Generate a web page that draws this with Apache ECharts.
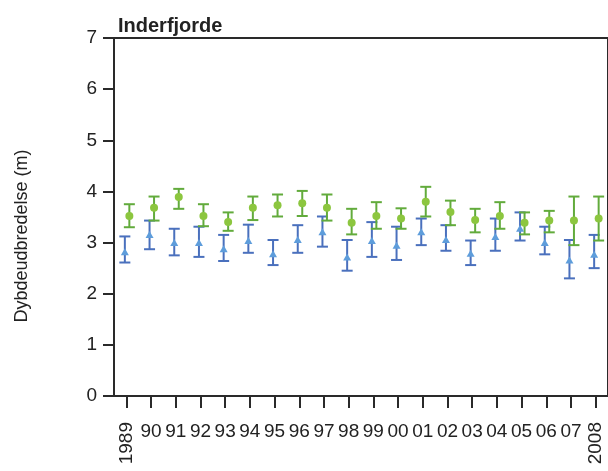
<!DOCTYPE html>
<html>
<head>
<meta charset="utf-8">
<style>html,body{margin:0;padding:0;background:#fff}#c{width:608px;height:471px}</style>
<script src="https://cdn.jsdelivr.net/npm/echarts@6/dist/echarts.min.js"></script>
</head>
<body>
<div id="c"></div>
<script>
const categories = ['1989','90','91','92','93','94','95','96','97','98','99','00','01','02','03','04','05','06','07','2008'];
const yTicks = [0,1,2,3,4,5,6,7];
const greenMean  = [3.52,3.68,3.89,3.52,3.40,3.68,3.73,3.77,3.68,3.39,3.52,3.47,3.80,3.60,3.44,3.52,3.39,3.43,3.43,3.47];
const greenUpper = [3.75,3.90,4.05,3.75,3.59,3.90,3.94,4.01,3.94,3.66,3.79,3.67,4.09,3.82,3.66,3.79,3.59,3.62,3.90,3.90];
const greenLower = [3.30,3.43,3.66,3.32,3.23,3.44,3.51,3.52,3.43,3.16,3.27,3.27,3.51,3.34,3.20,3.27,3.16,3.20,2.95,3.04];
const blueMean   = [2.82,3.16,3.00,3.00,2.88,3.04,2.78,3.06,3.21,2.72,3.04,2.95,3.21,3.06,2.79,3.12,3.28,3.00,2.66,2.77];
const blueUpper  = [3.12,3.43,3.27,3.31,3.15,3.35,3.05,3.34,3.51,3.05,3.40,3.31,3.47,3.34,3.04,3.47,3.59,3.31,3.05,3.15];
const blueLower  = [2.61,2.87,2.75,2.72,2.64,2.80,2.56,2.80,2.92,2.45,2.72,2.66,2.95,2.84,2.56,2.84,3.04,2.77,2.30,2.50];

const FONT = '"Liberation Sans", Arial, sans-serif';
const AX = '#2a2a2a';
const GREEN_BAR = '#62ab3c', GREEN_DOT = '#8cc63f';
const BLUE_BAR = '#4a70bd', BLUE_TRI = '#5e9ddb';

function errBars(lo, hi, off, color) {
  return {
    type: 'custom',
    xAxisIndex: 0,
    data: categories.map((c, i) => [i, lo[i], hi[i]]),
    encode: { x: 0, y: [1, 2] },
    renderItem: function (params, api) {
      const pTop = api.coord([api.value(0), api.value(2)]);
      const pBot = api.coord([api.value(0), api.value(1)]);
      const cx = pTop[0] + off, hw = 5.5;
      const st = { stroke: color, lineWidth: 2 };
      return { type: 'group', children: [
        { type: 'line', shape: { x1: cx, y1: pTop[1], x2: cx, y2: pBot[1] }, style: st },
        { type: 'line', shape: { x1: cx - hw, y1: pTop[1], x2: cx + hw, y2: pTop[1] }, style: st },
        { type: 'line', shape: { x1: cx - hw, y1: pBot[1], x2: cx + hw, y2: pBot[1] }, style: st }
      ]};
    },
    z: 2
  };
}

const chart = echarts.init(document.getElementById('c'));
chart.setOption({
  animation: false,
  backgroundColor: '#fff',
  title: {
    text: 'Inderfjorde', left: 113, top: 11,
    textStyle: { fontFamily: FONT, fontWeight: 'bold', fontSize: 20, color: '#222' }
  },
  grid: { left: 114, top: 38, width: 496, height: 358, show: true, borderColor: AX, borderWidth: 2, backgroundColor: 'transparent' },
  graphic: [{
    type: 'text', x: 22, y: 236, rotation: Math.PI / 2,
    style: { text: 'Dybdeudbredelse (m)', font: '18px ' + FONT, fill: '#222', align: 'center', verticalAlign: 'middle' }
  }],
  xAxis: [{
    type: 'category', data: categories, position: 'bottom',
    axisLine: { show: true, lineStyle: { color: AX, width: 2 } },
    axisTick: { show: true, interval: 0, alignWithLabel: true, length: 12, inside: false, lineStyle: { color: AX, width: 2 } },
    axisLabel: { interval: function (i) { return i !== 0 && i !== categories.length - 1; }, margin: 26, fontFamily: FONT, fontSize: 19, color: '#222' },
    splitLine: { show: false }
  }, {
    type: 'category', data: categories, position: 'bottom',
    axisLine: { show: false }, axisTick: { show: false },
    axisLabel: { interval: function (i) { return i === 0 || i === categories.length - 1; }, rotate: 90, margin: 26, fontFamily: FONT, fontSize: 19, color: '#222' },
    splitLine: { show: false }
  }],
  yAxis: {
    type: 'value', min: yTicks[0], max: yTicks[yTicks.length - 1], interval: 1,
    axisLine: { show: true, lineStyle: { color: AX, width: 2 } },
    axisTick: { show: true, length: 11, lineStyle: { color: AX, width: 2 } },
    axisLabel: { margin: 17, fontFamily: FONT, fontSize: 19, color: '#222' },
    splitLine: { show: false }
  },
  series: [
    errBars(blueLower, blueUpper, -1.5, BLUE_BAR),
    errBars(greenLower, greenUpper, 3, GREEN_BAR),
    { type: 'scatter', xAxisIndex: 0, data: blueMean.map((v, i) => [i, v]), symbol: 'triangle', symbolSize: [8, 7], symbolOffset: [-1.5, 0], itemStyle: { color: BLUE_TRI, opacity: 1 }, z: 3 },
    { type: 'scatter', xAxisIndex: 0, data: greenMean.map((v, i) => [i, v]), symbol: 'circle', symbolSize: 8, symbolOffset: [3, 0], itemStyle: { color: GREEN_DOT, opacity: 1 }, z: 3 }
  ]
});
</script>
</body>
</html>
